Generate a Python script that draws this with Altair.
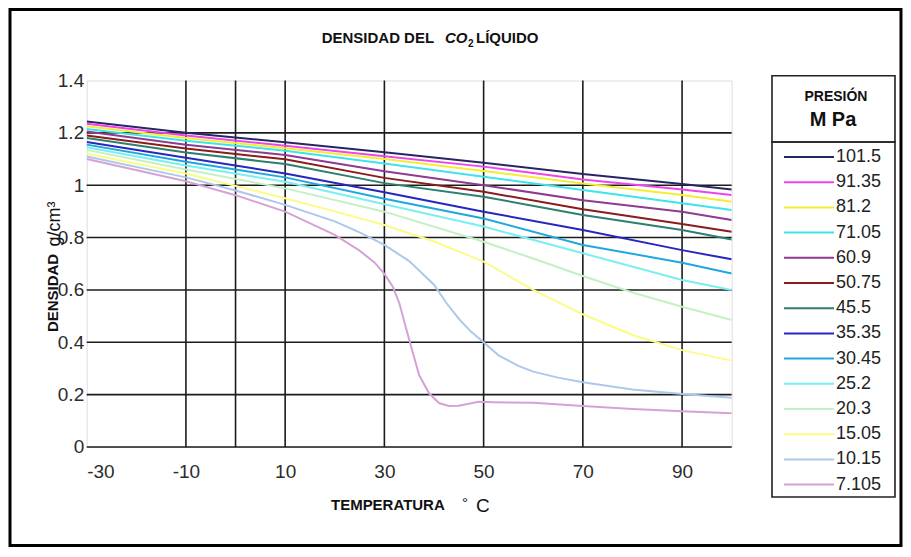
import altair as alt
import pandas as pd

# ---------------- data ----------------
pressures = ["101.5", "91.35", "81.2", "71.05", "60.9", "50.75", "45.5",
             "35.35", "30.45", "25.2", "20.3", "15.05", "10.15", "7.105"]
colors = ["#262666", "#ee44ee", "#f2ee30", "#3ee3ee", "#8e3b90", "#8b1c1c", "#2f7f6f",
          "#2626c0", "#1fa8e0", "#7aeef0", "#c4f0c4", "#fbfb88", "#adc8ea", "#d6a2d6"]

t_std = [-30, -10, 10, 30, 50, 70, 90, 100]
d_101_5 = [1.243, 1.200, 1.164, 1.126, 1.086, 1.043, 1.005, 0.984]
d_91_35 = [1.235, 1.190, 1.151, 1.111, 1.071, 1.022, 0.984, 0.963]
d_81_2 = [1.225, 1.180, 1.141, 1.100, 1.054, 1.007, 0.963, 0.937]
d_71_05 = [1.215, 1.170, 1.132, 1.083, 1.032, 0.982, 0.931, 0.905]
d_60_9 = [1.205, 1.155, 1.115, 1.053, 1.000, 0.943, 0.899, 0.867]
d_50_75 = [1.190, 1.140, 1.099, 1.028, 0.975, 0.908, 0.852, 0.822]
d_45_5 = [1.180, 1.125, 1.081, 1.008, 0.956, 0.886, 0.829, 0.793]
d_35_35 = [1.165, 1.105, 1.045, 0.973, 0.899, 0.829, 0.752, 0.717]
d_30_45 = [1.155, 1.090, 1.030, 0.948, 0.873, 0.772, 0.704, 0.663]
d_25_2 = [1.145, 1.075, 1.013, 0.927, 0.842, 0.740, 0.638, 0.600]

t_20_3 = [-30, -10, 10, 30, 50, 60, 70, 80, 90, 100]
d_20_3 = [1.135, 1.060, 0.988, 0.899, 0.784, 0.720, 0.653, 0.590, 0.536, 0.485]

t_15_05 = [-30, -10, 10, 20, 30, 40, 50, 60, 70, 80, 90, 100]
d_15_05 = [1.120, 1.045, 0.950, 0.900, 0.848, 0.785, 0.708, 0.600, 0.507, 0.428, 0.370, 0.330]

t_10_15 = [-30, -10, 0, 10, 20, 25, 30, 35, 40, 42.5, 45, 47.5, 50, 53, 57, 60, 65, 70, 80, 90, 100]
d_10_15 = [1.110, 1.030, 0.980, 0.925, 0.862, 0.820, 0.772, 0.710, 0.620, 0.550, 0.490, 0.440,
           0.400, 0.350, 0.310, 0.288, 0.265, 0.247, 0.220, 0.202, 0.188]

t_7_105 = [-30, -10, 0, 10, 20, 25, 28, 30, 31.7, 33, 35, 37, 39, 41, 43, 45, 47, 49, 52, 60, 70, 80, 90, 100]
d_7_105 = [1.100, 1.015, 0.962, 0.899, 0.810, 0.750, 0.705, 0.661, 0.612, 0.550, 0.410, 0.275,
           0.205, 0.168, 0.157, 0.158, 0.165, 0.173, 0.171, 0.169, 0.157, 0.145, 0.137, 0.129]

x_ticks = [-30, -10, 10, 30, 50, 70, 90]
x_grid = [-10, 0, 10, 30, 50, 70, 90]
y_ticks = [0, 0.2, 0.4, 0.6, 0.8, 1.0, 1.2, 1.4]
y_grid = [0, 0.2, 0.4, 0.6, 0.8, 1.0, 1.2]

series = [
    ("101.5", t_std, d_101_5), ("91.35", t_std, d_91_35), ("81.2", t_std, d_81_2),
    ("71.05", t_std, d_71_05), ("60.9", t_std, d_60_9), ("50.75", t_std, d_50_75),
    ("45.5", t_std, d_45_5), ("35.35", t_std, d_35_35), ("30.45", t_std, d_30_45),
    ("25.2", t_std, d_25_2), ("20.3", t_20_3, d_20_3), ("15.05", t_15_05, d_15_05),
    ("10.15", t_10_15, d_10_15), ("7.105", t_7_105, d_7_105),
]
rows = []
for p, ts, ds in series:
    for t, d in zip(ts, ds):
        rows.append({"presion": p, "temp": t, "dens": d})
df = pd.DataFrame(rows)

# ---------------- layout ----------------
W, H = 645, 366.5
FONT = "Liberation Sans"

xs = alt.Scale(domain=[-30, 100], nice=False, zero=False)
ys = alt.Scale(domain=[0, 1.4], nice=False, zero=False)

x_axis = alt.Axis(values=x_ticks, labelExpr="toString(datum.value)", grid=False, domain=False,
                  ticks=False, labelFontSize=19, labelFont=FONT, labelColor="#2b2b2b",
                  labelPadding=16, title=None)
y_axis = alt.Axis(values=y_ticks, format="~g", grid=False, domain=False, ticks=False,
                  labelFontSize=19, labelFont=FONT, labelColor="#2b2b2b", labelPadding=3,
                  title=None)

vgrid = alt.Chart(pd.DataFrame({"temp": x_grid})).mark_rule(
    color="#1c1c1c", strokeWidth=1.6
).encode(x=alt.X("temp:Q", scale=xs, axis=x_axis))

hgrid = alt.Chart(pd.DataFrame({"dens": y_grid})).mark_rule(
    color="#1c1c1c", strokeWidth=1.6
).encode(y=alt.Y("dens:Q", scale=ys, axis=y_axis))

lines = alt.Chart(df).mark_line(strokeWidth=2, clip=True).encode(
    x=alt.X("temp:Q", scale=xs, axis=x_axis),
    y=alt.Y("dens:Q", scale=ys, axis=y_axis),
    color=alt.Color("presion:N", scale=alt.Scale(domain=pressures, range=colors),
                    legend=alt.Legend(
                        orient="none", legendX=772 - 86.7, legendY=142 - 80.5,
                        title=None, padding=4, symbolType="M-0.3,0H4.7", symbolSize=400,
                        symbolStrokeWidth=2, labelFontSize=18, labelFont=FONT,
                        labelColor="#222222", labelOffset=38, rowPadding=5.2,
                        symbolLimit=0)),
    order=alt.Order("temp:Q"),
)


def txt(s, x, y, size, weight="normal", style="normal", align="left", angle=0,
        color="#111111", font=FONT):
    return alt.Chart(pd.DataFrame({"s": [s]})).mark_text(
        fontSize=size, fontWeight=weight, fontStyle=style, align=align,
        baseline="alphabetic", angle=angle, color=color, font=font,
    ).encode(text="s:N", x=alt.value(x), y=alt.value(y))


def box(x1, y1, x2, y2, width=1.6, color="#222222"):
    return alt.Chart(pd.DataFrame({"b": [0]})).mark_rect(
        fill=None, fillOpacity=0, stroke=color, strokeWidth=width
    ).encode(x=alt.value(x1), x2=alt.value(x2), y=alt.value(y1), y2=alt.value(y2))


ox, oy = 86.7, 80.5
texts = [
    txt("DENSIDAD DEL", 321.7 - ox, 43.3 - oy, 15, weight="bold"),
    txt("CO", 445 - ox, 43.3 - oy, 15, weight="bold", style="italic"),
    txt("2", 468 - ox, 47 - oy, 10, weight="bold"),
    txt("LÍQUIDO", 476 - ox, 43.3 - oy, 15, weight="bold"),
    txt("TEMPERATURA", 331 - ox, 510 - oy, 15, weight="bold"),
    txt("°", 462 - ox, 508 - oy, 15),
    txt("C", 476 - ox, 512 - oy, 19),
    txt("DENSIDAD", 58 - ox, 293 - oy, 15, weight="bold", align="center", angle=270),
    txt("g/cm³", 60 - ox, 224 - oy, 18, align="center", angle=270),
    txt("PRESIÓN", 836 - ox, 101 - oy, 14, weight="bold", align="center"),
    txt("M Pa", 833 - ox, 126 - oy, 20, weight="bold", align="center"),
]

boxes = [
    box(772 - ox, 75.7 - oy, 895 - ox, 142 - oy),
    box(772 - ox, 142 - oy, 895 - ox, 497 - oy),
    box(10 - ox, 9.5 - oy, 901 - ox, 545.5 - oy, width=3, color="#000000"),
]

chart = alt.layer(vgrid, hgrid, lines, *texts, *boxes).properties(
    width=W, height=H,
    autosize=alt.AutoSizeParams(type="none"),
    padding={"left": 78.7, "top": 72.5, "right": 171, "bottom": 100},
).configure_view(stroke="#a8a8a8", strokeWidth=1.5).configure(background="white")

chart.save("out.html", embed_options={"renderer": "svg", "actions": False})
